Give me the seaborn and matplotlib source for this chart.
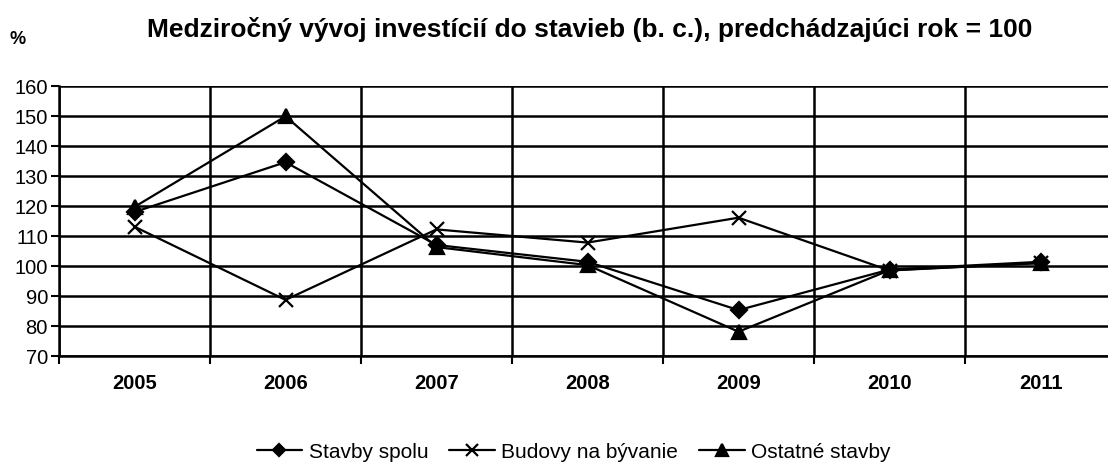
import pandas as pd
import matplotlib.pyplot as plt
import seaborn as sns
from matplotlib.ticker import FixedLocator

sns.set_theme(style="white")
plt.rcParams['font.family'] = ['Liberation Sans', 'DejaVu Sans']
plt.rcParams['text.color'] = 'black'
plt.rcParams['xtick.color'] = 'black'
plt.rcParams['ytick.color'] = 'black'

# Data
years = ["2005", "2006", "2007", "2008", "2009", "2010", "2011"]
stavby_spolu = [118.0, 134.6, 107.0, 101.4, 85.3, 98.8, 101.4]
budovy_byvanie = [113.1, 88.7, 112.2, 107.8, 116.1, 98.5, 101.0]
ostatne_stavby = [119.7, 149.9, 106.3, 100.3, 78.1, 98.6, 101.0]
series_names = ["Stavby spolu", "Budovy na bývanie", "Ostatné stavby"]

df = pd.DataFrame({
    "rok": list(range(len(years))) * 3,
    "hodnota": stavby_spolu + budovy_byvanie + ostatne_stavby,
    "rad": [n for n in series_names for _ in years],
})

fig = plt.figure(figsize=(11.08, 4.72), dpi=100)
ax = fig.add_axes([59 / 1108, 1 - 356 / 472, 1 - 59 / 1108, 270 / 472])

markers = {"Stavby spolu": "D", "Budovy na bývanie": "x", "Ostatné stavby": "^"}
sizes = {"Stavby spolu": 8, "Budovy na bývanie": 10, "Ostatné stavby": 10}
for name in series_names:
    sub = df[df["rad"] == name]
    sns.lineplot(data=sub, x="rok", y="hodnota", ax=ax, color="black",
                 marker=markers[name], markersize=sizes[name], markeredgewidth=1.6,
                 markeredgecolor="black", linewidth=1.6, label=name)

ax.set_ylim(70, 160)
ax.set_yticks(range(70, 161, 10))
ax.set_xlim(-0.5, -0.5 + 1049 / 151)
ax.set_xticks(range(len(years)))
ax.set_xticklabels(years, fontweight="bold", fontsize=14.5)
ax.xaxis.set_minor_locator(FixedLocator([i + 0.5 for i in range(-1, len(years))]))
ax.tick_params(axis="x", which="major", length=0, pad=13)
ax.tick_params(axis="x", which="minor", length=6, width=1.5, color="black", direction="out", bottom=True)
ax.tick_params(axis="y", length=6, width=1.5, color="black", direction="out", left=True, labelsize=14.5, pad=2)

ax.grid(axis="y", which="major", color="black", linewidth=1.8)
ax.grid(axis="x", which="minor", color="black", linewidth=1.8)
ax.grid(axis="x", which="major", visible=False)

for side in ["top", "right"]:
    ax.spines[side].set_visible(False)
for side in ["left", "bottom"]:
    ax.spines[side].set_color("black")
    ax.spines[side].set_linewidth(1.8)

ax.set_xlabel("")
ax.set_ylabel("")

fig.text(590 / 1108, 1 - 30 / 472, "Medziročný vývoj investícií do stavieb (b. c.), predchádzajúci rok = 100",
         ha="center", va="center", fontsize=19, fontweight="bold")
fig.text(10 / 1108, 1 - 40 / 472, "%", ha="left", va="center", fontsize=13, fontweight="bold")

ax.legend(loc="center", bbox_to_anchor=(0.5 - 10 / 1049, -0.356), ncol=3, frameon=False,
          fontsize=15, handlelength=2.2, handletextpad=0.3, columnspacing=1.0, markerscale=0.8)

fig.savefig("out.png", dpi=100)
